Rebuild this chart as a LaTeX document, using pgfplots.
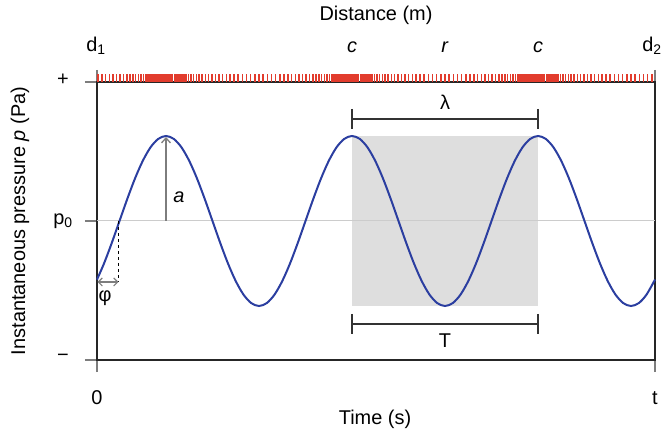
\documentclass[border=0pt]{standalone}
\usepackage{pgfplots}
\pgfplotsset{compat=1.18}
\usepackage{fontspec}
\setmainfont{Liberation Sans}
\usetikzlibrary{arrows.meta}
\definecolor{wave}{RGB}{43,62,160}
\definecolor{rug}{RGB}{226,60,45}
\definecolor{shade}{RGB}{222,222,222}
\definecolor{tk}{RGB}{125,125,125}
\begin{document}
\begin{tikzpicture}[font=\fontsize{20}{24}\selectfont]
\useasboundingbox (0,0) rectangle (664bp,440bp);
\begin{axis}[at={(97bp,80bp)}, anchor=south west, scale only axis,
  width=558bp, height=278bp,
  xmin=0, xmax=558, ymin=-139, ymax=139, clip=false,
  axis line style={line width=1.6bp, color=black!85},
  xtick={0,558}, ytick={-139,0,139}, xticklabels={}, yticklabels={},
  xtick pos=both, ytick pos=left, tick align=outside,
  major tick length=12bp,
  tick style={tk, line width=1.4bp}]
\addplot[draw=none, fill=shade] coordinates {(255,-85) (441,-85) (441,85) (255,85)} -- cycle;
\addplot[color=black!20, line width=1bp] coordinates {(0,0) (558,0)};
\addplot[wave, line width=2bp, smooth] coordinates {
(0,-58.6) (7,-42.5) (14.75,-22) (22.5,0) (30.25,22) (38,42.5) (45.75,60.1) (53.5,73.61) (61.25,82.1) (69,85)
(76.75,82.1) (84.5,73.61) (92.25,60.1) (100,42.5) (107.75,22) (115.5,0) (123.25,-22) (131,-42.5) (138.75,-60.1) (146.5,-73.61) (154.25,-82.1) (162,-85)
(169.75,-82.1) (177.5,-73.61) (185.25,-60.1) (193,-42.5) (200.75,-22) (208.5,0) (216.25,22) (224,42.5) (231.75,60.1) (239.5,73.61) (247.25,82.1) (255,85)
(262.75,82.1) (270.5,73.61) (278.25,60.1) (286,42.5) (293.75,22) (301.5,0) (309.25,-22) (317,-42.5) (324.75,-60.1) (332.5,-73.61) (340.25,-82.1) (348,-85)
(355.75,-82.1) (363.5,-73.61) (371.25,-60.1) (379,-42.5) (386.75,-22) (394.5,0) (402.25,22) (410,42.5) (417.75,60.1) (425.5,73.61) (433.25,82.1) (441,85)
(448.75,82.1) (456.5,73.61) (464.25,60.1) (472,42.5) (479.75,22) (487.5,0) (495.25,-22) (503,-42.5) (510.75,-60.1) (518.5,-73.61) (526.25,-82.1) (534,-85)
(541.75,-82.1) (549.5,-73.61) (558,-58.6)};
\addplot[rug, line width=1.5bp, quiver={u=0, v=7.6}, -] coordinates {
(0.84,139) (4.79,139) (8.67,139) (12.45,139) (16.14,139) (19.72,139) (23.18,139) (26.53,139) (29.75,139) (32.85,139) (35.82,139) (38.66,139) (41.38,139) (43.96,139) (46.43,139) (48.78,139) (51.01,139) (53.14,139) (55.17,139) (57.11,139) (58.96,139) (60.75,139) (62.47,139) (64.15,139) (65.79,139) (67.40,139) (69,139)
(70.60,139) (72.21,139) (73.85,139) (75.53,139) (77.25,139) (79.04,139) (80.89,139) (82.83,139) (84.86,139) (86.99,139) (89.22,139) (91.57,139) (94.04,139) (96.62,139) (99.34,139) (102.18,139) (105.15,139) (108.25,139) (111.47,139) (114.82,139) (118.28,139) (121.86,139) (125.55,139) (129.33,139) (133.21,139) (137.16,139) (141.19,139) (145.28,139) (149.41,139) (153.59,139) (157.79,139) (162,139)
(166.21,139) (170.41,139) (174.59,139) (178.72,139) (182.81,139) (186.84,139) (190.79,139) (194.67,139) (198.45,139) (202.14,139) (205.72,139) (209.18,139) (212.53,139) (215.75,139) (218.85,139) (221.82,139) (224.66,139) (227.38,139) (229.96,139) (232.43,139) (234.78,139) (237.01,139) (239.14,139) (241.17,139) (243.11,139) (244.96,139) (246.75,139) (248.47,139) (250.15,139) (251.79,139) (253.40,139) (255,139)
(256.60,139) (258.21,139) (259.85,139) (261.53,139) (263.25,139) (265.04,139) (266.89,139) (268.83,139) (270.86,139) (272.99,139) (275.22,139) (277.57,139) (280.04,139) (282.62,139) (285.34,139) (288.18,139) (291.15,139) (294.25,139) (297.47,139) (300.82,139) (304.28,139) (307.86,139) (311.55,139) (315.33,139) (319.21,139) (323.16,139) (327.19,139) (331.28,139) (335.41,139) (339.59,139) (343.79,139) (348,139)
(352.21,139) (356.41,139) (360.59,139) (364.72,139) (368.81,139) (372.84,139) (376.79,139) (380.67,139) (384.45,139) (388.14,139) (391.72,139) (395.18,139) (398.53,139) (401.75,139) (404.85,139) (407.82,139) (410.66,139) (413.38,139) (415.96,139) (418.43,139) (420.78,139) (423.01,139) (425.14,139) (427.17,139) (429.11,139) (430.96,139) (432.75,139) (434.47,139) (436.15,139) (437.79,139) (439.40,139) (441,139)
(442.60,139) (444.21,139) (445.85,139) (447.53,139) (449.25,139) (451.04,139) (452.89,139) (454.83,139) (456.86,139) (458.99,139) (461.22,139) (463.57,139) (466.04,139) (468.62,139) (471.34,139) (474.18,139) (477.15,139) (480.25,139) (483.47,139) (486.82,139) (490.28,139) (493.86,139) (497.55,139) (501.33,139) (505.21,139) (509.16,139) (513.19,139) (517.28,139) (521.41,139) (525.59,139) (529.79,139) (534,139)
(538.21,139) (542.41,139) (546.59,139) (550.72,139) (554.81,139)};
% lambda bracket
\addplot[black!80, line width=1.2bp] coordinates {(255,102) (441,102)};
\addplot[black!80, line width=1.2bp] coordinates {(255,112) (255,92)};
\addplot[black!80, line width=1.2bp] coordinates {(441,112) (441,92)};
% T bracket
\addplot[black!80, line width=1.2bp] coordinates {(255,-103) (441,-103)};
\addplot[black!80, line width=1.2bp] coordinates {(255,-93) (255,-113)};
\addplot[black!80, line width=1.2bp] coordinates {(441,-93) (441,-113)};
% amplitude
\addplot[tk, line width=1.3bp, -{Straight Barb[length=5bp,width=9bp]}] coordinates {(69,0) (69,84)};
% phase
\addplot[black, line width=1bp, dashed] coordinates {(21.5,0) (21.5,-61)};
\addplot[tk, line width=1.1bp, {Straight Barb[length=4bp,width=8bp]}-{Straight Barb[length=4bp,width=8bp]}] coordinates {(0.5,-61) (21.5,-61)};
% texts
\node at (axis cs:279,206) {Distance (m)};
\node at (axis cs:-1,175) {d\textsubscript{1}};
\node at (axis cs:555,175) {d\textsubscript{2}};
\node at (axis cs:255,174) {\textit{c}};
\node at (axis cs:348,174) {\textit{r}};
\node at (axis cs:441,174) {\textit{c}};
\node[rotate=90] at (axis cs:-77,0) {Instantaneous pressure \textit{p} (Pa)};
\node at (axis cs:-34,141) {+};
\node at (axis cs:-34,0) {p\textsubscript{0}};
\node at (axis cs:-34,-137) {−};
\node at (axis cs:0,-177) {0};
\node at (axis cs:558,-177) {t};
\node at (axis cs:278,-198) {Time (s)};
\node at (axis cs:348,119) {λ};
\node at (axis cs:348,-120) {T};
\node at (axis cs:82,24) {\textit{a}};
\node at (axis cs:8,-77) {φ};
\end{axis}
\end{tikzpicture}
\end{document}
